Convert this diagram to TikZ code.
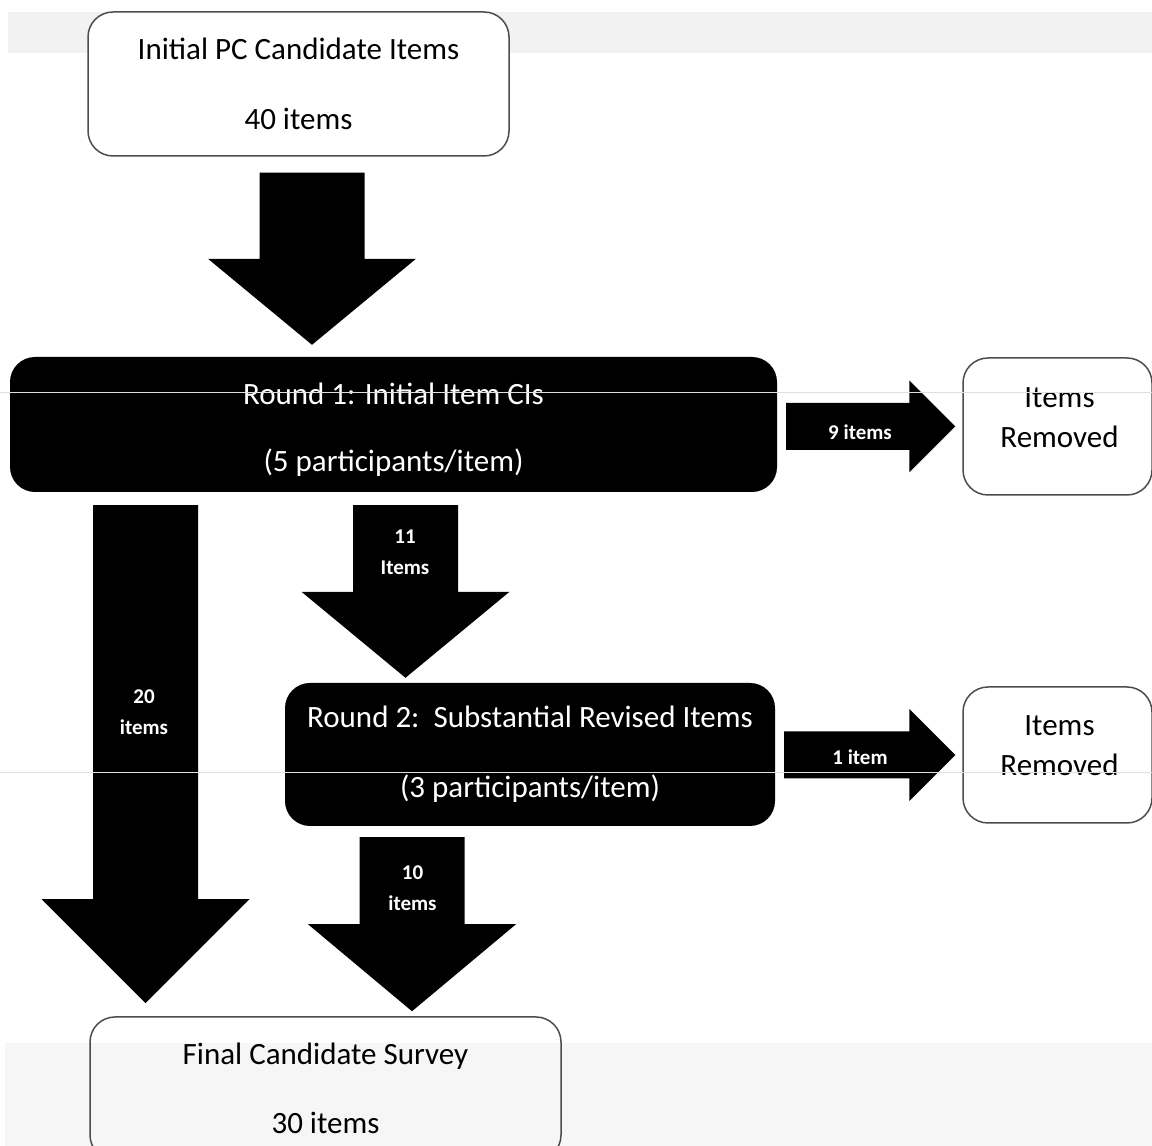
\documentclass[tikz,border=0pt]{standalone}
\usepackage{fontspec}
\setmainfont{Carlito}
\usetikzlibrary{calc}

% fat block arrows: x, from node, to node, gap at top, gap at tip, head length
\newcommand{\fatdown}[6]{%
  \fill let \p1=(#2.south), \p2=(#3.north) in
    (#1-52.5,\y1-#4) -- (#1+52.5,\y1-#4) -- (#1+52.5,\y2+#5+#6) -- (#1+104,\y2+#5+#6)
    -- (#1,\y2+#5) -- (#1-104,\y2+#5+#6) -- (#1-52.5,\y2+#5+#6) -- cycle;}
\newcommand{\fatright}[2]{%
  \fill let \p1=(#1.east), \p2=(#2.west) in
    (\x1+9,\y2+23.5) -- (\x2-53,\y2+23.5) -- (\x2-53,\y2+46) -- (\x2-7,\y2)
    -- (\x2-53,\y2-46) -- (\x2-53,\y2-23.5) -- (\x1+9,\y2-23.5) -- cycle;}

\tikzset{
  whitebox/.style={draw=gray!60!black, line width=1.5pt, rounded corners=25pt, align=center},
  blackbox/.style={fill=black, text=white, rounded corners=25pt, align=center},
  lbl/.style={text=white, align=center, font=\bfseries\fontsize{21}{31}\selectfont},
}

\begin{document}
\begin{tikzpicture}[x=1pt, y=1pt, font=\fontsize{31}{37}\selectfont]
            \useasboundingbox (0,0) rectangle (1152,1146);
            \clip (0,0) rectangle (1152,1146);

            % grey bands of the scan
            \fill[gray!10] (8,1134) rectangle (1152,1093);
            \fill[gray!7] (5,103) rectangle (1152,0);

            \node[whitebox, fill=white, minimum width=421pt, minimum height=144pt] (init) at (298.5,1062)
                {Initial PC Candidate Items\\[33pt]40 items};
            \node[blackbox, minimum width=767pt, minimum height=135pt] (rnd1) at (393.5,721.5) {};
            \node[text=white, align=center] (rnd1txt) at ($(rnd1)+(0,-5)$)
                {Round 1: Initial Item CIs\\[30pt](5 participants/item)};
            \node[whitebox, fill=white, minimum width=189pt, minimum height=137pt] (rem1) at (1057.5,719.5) {};
            \node[align=center] (rem1txt) at ($(rem1)+(2,9)$) {Items\\[3pt]Removed};
            \node[blackbox, minimum width=490pt, minimum height=143pt] (rnd2) at (530,391.5)
                {Round 2:\ \ Substantial Revised Items\\[33pt](3 participants/item)};
            \node[whitebox, fill=white, minimum width=189pt, minimum height=136pt] (rem2) at (1057.5,391) {};
            \node[align=center] (rem2txt) at ($(rem2)+(2,9)$) {Items\\[3pt]Removed};
            \node[whitebox, minimum width=471pt, minimum height=143pt] (final) at (325.5,57.5)
                {Final Candidate Survey\\[32pt]30 items};

            \fatdown{312}{init}{rnd1}{16}{12}{86}
            \fatdown{145.5}{rnd1}{final}{13}{13}{104}
            \fatdown{405.5}{rnd1}{rnd2}{13}{5}{86}
            \fatdown{412}{rnd2}{final}{11}{5}{87}
            \fatright{rnd1}{rem1}
            \fatright{rnd2}{rem2}

            \node[lbl] (l9) at (860,714) {9 items};
            \node[lbl] (l1) at (860,389) {1 item};
            \node[lbl] (l11) at (405,594) {11\\Items};
            \node[lbl] (l20) at (144,434) {20\\items};
            \node[lbl] (l10) at (412.5,258) {10\\items};

            % scan lines
            \draw[gray!25, line width=1pt] (0,753) -- (1152,753);
            \draw[gray!25, line width=1pt] (0,373) -- (1152,373);
        \end{tikzpicture}
\end{document}
